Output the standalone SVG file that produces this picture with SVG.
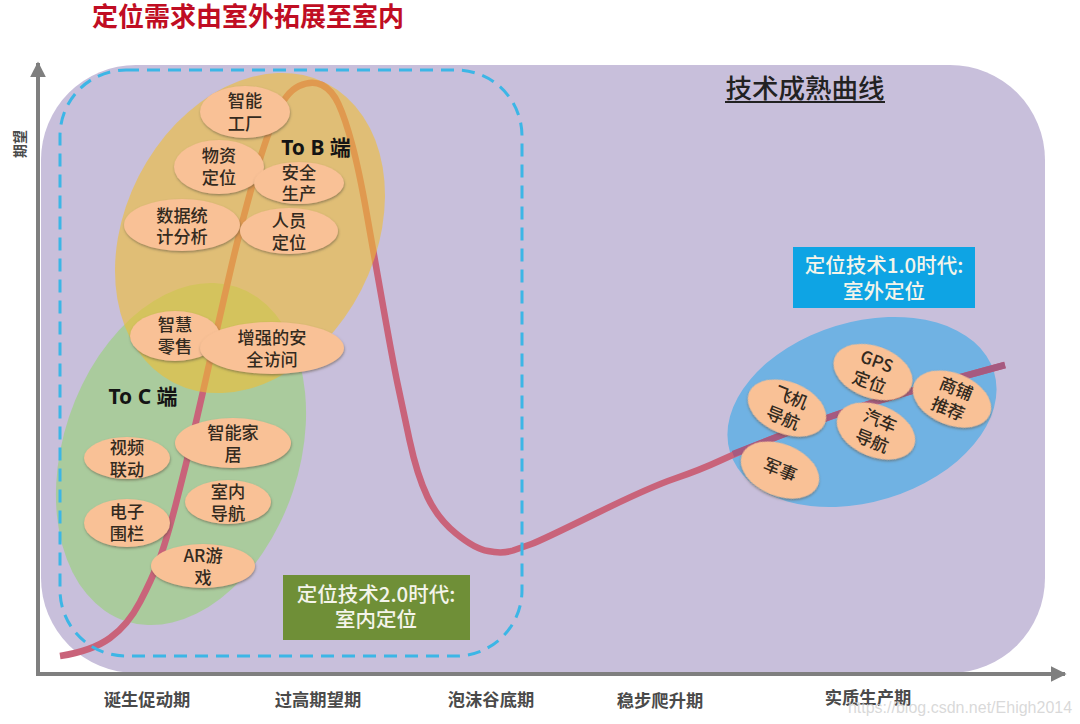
<svg xmlns="http://www.w3.org/2000/svg" width="1080" height="724" viewBox="0 0 1080 724">
<style>
text{font-family:"Noto Sans CJK SC","Liberation Sans",sans-serif;text-anchor:middle}
.b ellipse{fill:#f9c196;filter:url(#sh)}
.b text{font-size:17.2px;font-weight:500;fill:#332a20}
.ax{font-size:17.300px;font-weight:700;fill:#4a4a4a}
.tag{font-size:20.500px;font-weight:500;fill:#f4f4ea}
.seg{font-size:21px;font-weight:700;fill:#141414;font-family:"Noto Sans","Noto Sans CJK SC",sans-serif}
.curve{fill:none;stroke-width:6.5;stroke-linecap:butt;stroke-linejoin:round}
</style>
<defs>
<filter id="sh" x="-15%" y="-15%" width="130%" height="140%"><feDropShadow dx="0.5" dy="1.5" stdDeviation="1.2" flood-color="#5a5040" flood-opacity="0.55"/></filter>
<marker id="ah" viewBox="0 0 10 10" refX="9" refY="5" markerWidth="4" markerHeight="4" orient="auto"><path d="M0 0L10 5L0 10z" fill="#7f7f7f"/></marker>
</defs>
<rect width="1080" height="724" fill="#ffffff"/>
<text x="248" y="26" style="font-size:26px;font-weight:700;fill:#c00d23">定位需求由室外拓展至室内</text>
<rect x="41" y="65" width="1004" height="608" rx="95" ry="95" fill="#c8bfdb"/>
<g id="region-blue"><ellipse cx="862" cy="412" rx="138" ry="90" transform="rotate(-17 862 412)" fill="#70b2e3"/></g>
<g id="region-c"><ellipse cx="181" cy="454" rx="118" ry="176" transform="rotate(18.5 181 454)" fill="#9cd083" fill-opacity="0.7"/></g>
<g id="connectors">
<path d="M38 674V63" fill="none" stroke="#7f7f7f" stroke-width="4" marker-end="url(#ah)"/>
<path d="M36 674H1065" fill="none" stroke="#7f7f7f" stroke-width="4" marker-end="url(#ah)"/>
<path class="curve" stroke="#c9637a" d="M60 656Q92 651 110 638Q128 625 140 602Q152 579 159 560.5Q166 542 176 503.5Q186 465 194.5 428.5Q203 392 211 356Q219 320 230 272.5Q241 225 253 182.5Q265 140 275.500 116Q286 92 299 86Q312 80 322 85Q332 90 338.500 104Q345 118 352 144Q359 170 366.500 212.500Q374 255 383.500 308.500Q393 362 397.500 383.500Q402 405 409.500 440Q417 475 427.500 497Q438 519 456 533.500Q475 549 488 551Q502 554 513 550.500Q523 547 531.500 544Q540 541 595 514Q650 487 675 478.500Q700 470 721.500 460Q743 450 788 432.500Q833 415 873 402.500Q913 390 1005 365"/>
<path class="curve" stroke="#a65a80" d="M733 454Q743 450 788 432.500Q833 415 873 402.500Q913 390 1005 365"/>
</g>
<g id="region-b"><ellipse cx="250" cy="233" rx="125" ry="168" transform="rotate(27 250 233)" fill="#f0be32" fill-opacity="0.6"/></g>
<rect id="era2-frame" x="60" y="70" width="462" height="586" rx="66" ry="66" fill="none" stroke="#3cb6e6" stroke-width="3" stroke-dasharray="13 8"/>
<text x="805" y="98" style="font-size:26.500px;font-weight:500;fill:#222222">技术成熟曲线</text>
<rect x="725" y="101" width="160" height="2" fill="#222222"/>
<text class="seg" x="316" y="155">To B 端</text>
<text class="seg" x="143" y="404">To C 端</text>
<g id="box-2"><rect x="283" y="575" width="187" height="65" fill="#6f8f37"/><text class="tag" x="376" y="602">定位技术2.0时代:</text><text class="tag" x="376" y="627">室内定位</text></g>
<g id="box-1"><rect x="793" y="247" width="182" height="61" fill="#0ea4e4"/><text class="tag" x="884" y="273">定位技术1.0时代:</text><text class="tag" x="884" y="299">室外定位</text></g>
<g id="n-zhinenggongchang" class="b"><ellipse cx="245" cy="112" rx="45" ry="26"/><text x="245" y="107">智能</text><text x="245" y="130">工厂</text></g>
<g id="n-wuzi" class="b"><ellipse cx="219" cy="167" rx="45" ry="27"/><text x="219" y="162">物资</text><text x="219" y="184">定位</text></g>
<g id="n-anquan" class="b"><ellipse cx="299" cy="183" rx="45" ry="21"/><text x="299" y="179">安全</text><text x="299" y="200">生产</text></g>
<g id="n-shuju" class="b"><ellipse cx="182" cy="225" rx="58" ry="26"/><text x="182" y="222">数据统</text><text x="182" y="243">计分析</text></g>
<g id="n-renyuan" class="b"><ellipse cx="289" cy="231" rx="49" ry="23"/><text x="289" y="227">人员</text><text x="289" y="249">定位</text></g>
<g id="n-zhihui" class="b"><ellipse cx="175" cy="336" rx="45" ry="25"/><text x="175" y="331">智慧</text><text x="175" y="353">零售</text></g>
<g id="n-zengqiang" class="b"><ellipse cx="272" cy="348" rx="72" ry="26"/><text x="272" y="344">增强的安</text><text x="272" y="366">全访问</text></g>
<g id="n-jiaju" class="b"><ellipse cx="233" cy="443" rx="58" ry="25"/><text x="233" y="439">智能家</text><text x="233" y="461">居</text></g>
<g id="n-shipin" class="b"><ellipse cx="127" cy="458" rx="43" ry="21"/><text x="127" y="454">视频</text><text x="127" y="476">联动</text></g>
<g id="n-shinei" class="b"><ellipse cx="228" cy="502" rx="43" ry="22"/><text x="228" y="498">室内</text><text x="228" y="520">导航</text></g>
<g id="n-dianzi" class="b"><ellipse cx="127" cy="523" rx="43" ry="24"/><text x="127" y="518">电子</text><text x="127" y="540">围栏</text></g>
<g id="n-ar" class="b"><ellipse cx="203" cy="566" rx="52" ry="22"/><text x="203" y="562">AR游</text><text x="203" y="584">戏</text></g>
<g id="n-gps" class="b" transform="rotate(20 873 372)"><ellipse cx="873" cy="372" rx="41" ry="26"/><text x="873" y="367">GPS</text><text x="873" y="389">定位</text></g>
<g id="n-shangpu" class="b" transform="rotate(22 952 399)"><ellipse cx="952" cy="399" rx="41" ry="26"/><text x="952" y="394">商铺</text><text x="952" y="416">推荐</text></g>
<g id="n-feiji" class="b" transform="rotate(22 787 408)"><ellipse cx="787" cy="408" rx="41" ry="26"/><text x="787" y="403">飞机</text><text x="787" y="425">导航</text></g>
<g id="n-qiche" class="b" transform="rotate(22 876 431)"><ellipse cx="876" cy="431" rx="41" ry="26"/><text x="876" y="426">汽车</text><text x="876" y="448">导航</text></g>
<g id="n-junshi" class="b" transform="rotate(22 780 470)"><ellipse cx="780" cy="470" rx="41" ry="26"/><text x="780" y="476">军事</text></g>
<text class="ax" transform="translate(25 144) rotate(-90)" style="font-size:14px">期望</text>
<text class="ax" x="147" y="706">诞生促动期</text>
<text class="ax" x="318" y="706">过高期望期</text>
<text class="ax" x="491" y="706">泡沫谷底期</text>
<text class="ax" x="660" y="707">稳步爬升期</text>
<text class="ax" x="868" y="704">实质生产期</text>
<text x="960" y="713" style="font-family:'Liberation Sans',sans-serif;font-size:16px;fill:#cfcfcf;fill-opacity:0.8">https://blog.csdn.net/Ehigh2014</text>
</svg>
